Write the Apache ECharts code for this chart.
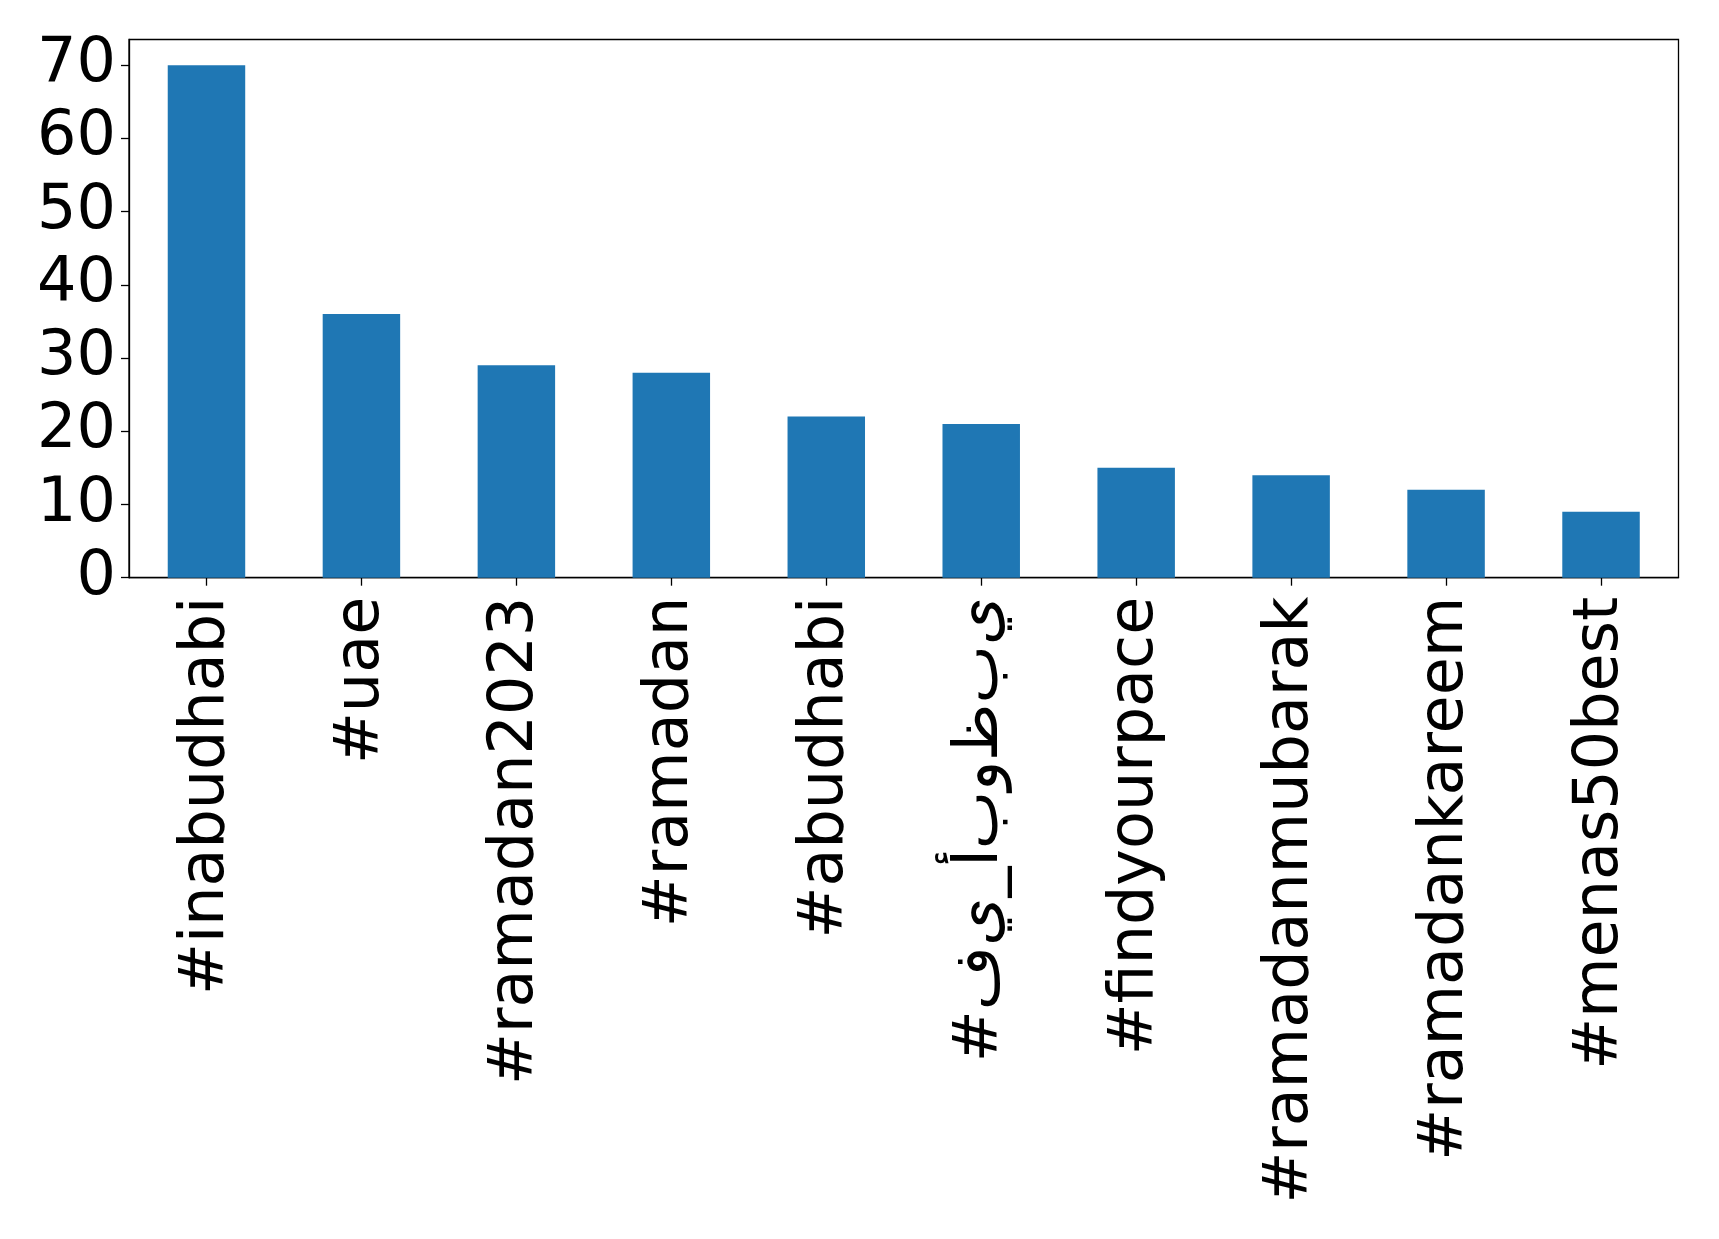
<!DOCTYPE html>
<html>
<head>
<meta charset="utf-8">
<script src="https://cdn.jsdelivr.net/npm/echarts@6/dist/echarts.min.js"></script>
<style>html,body{margin:0;padding:0;background:#fff}#c{width:1719px;height:1239px}</style>
</head>
<body>
<div id="c"></div>
<script>
const categories = ['#inabudhabi', '#uae', '#ramadan2023', '#ramadan', '#abudhabi', '#في_أبوظبي', '#findyourpace', '#ramadanmubarak', '#ramadankareem', '#menas50best'];
const counts = [70, 36, 29, 28, 22, 21, 15, 14, 12, 9];
const yTicks = [0, 10, 20, 30, 40, 50, 60, 70];

// The reference shows the Arabic letters unjoined, left to right
function displayLabel(s) {
  if (/[\u0600-\u06FF]/.test(s)) {
    return '\u202D' + Array.from(s).join('\u200C') + '\u202C';
  }
  return s;
}

const chart = echarts.init(document.getElementById('c'), null, {renderer: 'canvas'});
chart.setOption({
  animation: false,
  backgroundColor: '#fff',
  grid: {
    left: 129, right: 40.5, top: 39.5, bottom: 661.3,
    show: true, borderColor: '#000', borderWidth: 1.3, backgroundColor: 'transparent'
  },
  xAxis: {
    type: 'category',
    data: categories,
    boundaryGap: true,
    axisLine: {show: true, lineStyle: {color: '#000', width: 1.3}},
    axisTick: {show: true, alignWithLabel: true, length: 8, lineStyle: {color: '#000', width: 1.3}},
    axisLabel: {
      rotate: 90, interval: 0, margin: 19,
      color: '#000', fontSize: 62, fontFamily: 'DejaVu Sans',
      formatter: displayLabel
    }
  },
  yAxis: {
    type: 'value',
    min: 0, max: 73.5, interval: 10,
    splitLine: {show: false},
    axisLine: {show: true, lineStyle: {color: '#000', width: 1.3}},
    axisTick: {show: true, length: 8, customValues: yTicks, lineStyle: {color: '#000', width: 1.3}},
    axisLabel: {
      customValues: yTicks, margin: 13, padding: [9, 0, 0, 0],
      color: '#000', fontSize: 62, fontFamily: 'DejaVu Sans'
    }
  },
  series: [{
    type: 'bar',
    data: counts,
    barWidth: '50%',
    itemStyle: {color: '#1f77b4'}
  }]
});
</script>
</body>
</html>
